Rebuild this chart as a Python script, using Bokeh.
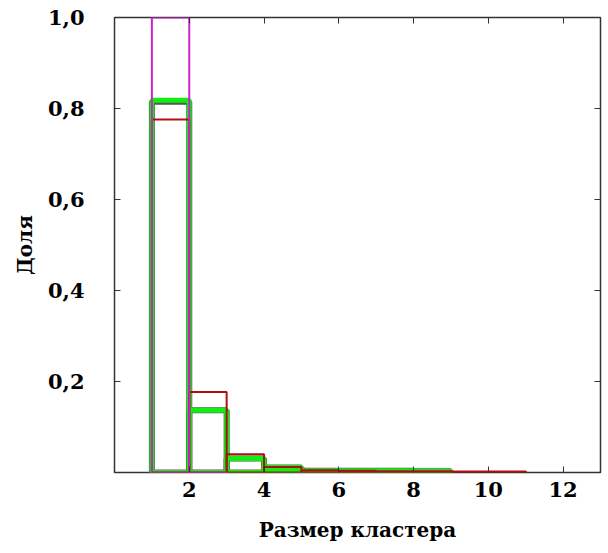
from bokeh.plotting import figure
from bokeh.models import LinearAxis, FixedTicker, Range1d, Label
from bokeh.embed import file_html
from bokeh.resources import INLINE

# bin edges (cluster size)
left_edges = [1, 2, 3, 4, 5, 6, 7, 8, 9, 10]
right_edges = [2, 3, 4, 5, 6, 7, 8, 9, 10, 11]

magenta_vals = [1.0, 0.0]
red_vals = [0.776, 0.177, 0.040, 0.012, 0.005, 0.004, 0.003, 0.003, 0.002, 0.002]
gray_vals = [0.815, 0.137, 0.031, 0.011, 0.004, 0.004, 0.004, 0.003]
green_vals = [0.818, 0.137, 0.031, 0.011, 0.004, 0.004, 0.004, 0.003]

x_ticks = [2, 4, 6, 8, 10, 12]
y_ticks = [0.2, 0.4, 0.6, 0.8, 1.0]
y_labels = {0.2: "0,2", 0.4: "0,4", 0.6: "0,6", 0.8: "0,8", 1.0: "1,0"}

FONT = "DejaVu Serif"

p = figure(width=608, height=553, output_backend="svg", toolbar_location=None,
           x_range=Range1d(0, 13), y_range=Range1d(0, 1.0),
           min_border_left=114, min_border_right=8, min_border_top=17, min_border_bottom=81,
           x_axis_label="Размер кластера", y_axis_label="Доля")
p.grid.visible = False
p.background_fill_color = "white"
p.border_fill_color = "white"
p.outline_line_color = "#333333"
p.outline_line_width = 1.5

def add_hist(vals, color, width):
    n = len(vals)
    p.quad(left=left_edges[:n], right=right_edges[:n], bottom=[0] * n, top=vals,
           fill_alpha=0, line_color=color, line_width=width)

add_hist(gray_vals, "#555555", 6)
add_hist(green_vals, "#11ee11", 5)
add_hist(red_vals, "#aa1111", 2)
add_hist(magenta_vals, "#cc22cc", 2)

for ax in (p.xaxis[0], p.yaxis[0]):
    ax.axis_line_color = None
    ax.major_tick_in = 6
    ax.major_tick_out = 0
    ax.minor_tick_line_color = None
    ax.major_tick_line_color = "#333333"
    ax.major_label_text_font = FONT
    ax.major_label_text_font_style = "bold"
    ax.major_label_text_font_size = "21px"
    ax.major_label_text_color = "black"
    ax.axis_label_text_font = FONT
    ax.axis_label_text_font_style = "bold"
    ax.axis_label_text_font_size = "20px"
    ax.axis_label_text_color = "black"

p.xaxis[0].ticker = FixedTicker(ticks=x_ticks)
p.xaxis[0].major_label_standoff = 9
p.xaxis[0].axis_label_standoff = 18
p.yaxis[0].ticker = FixedTicker(ticks=y_ticks)
p.yaxis[0].major_label_overrides = y_labels
p.yaxis[0].major_label_standoff = 30
p.yaxis[0].axis_label_standoff = 8

# mirrored ticks on top and right (no labels)
top = LinearAxis(ticker=FixedTicker(ticks=x_ticks),
                 major_label_overrides={t: "" for t in x_ticks},
                 axis_line_color=None, major_tick_in=6, major_tick_out=0,
                 minor_tick_line_color=None, major_tick_line_color="#333333")
right = LinearAxis(ticker=FixedTicker(ticks=y_ticks),
                   major_label_overrides={t: "" for t in y_ticks},
                   axis_line_color=None, major_tick_in=6, major_tick_out=0,
                   minor_tick_line_color=None, major_tick_line_color="#333333")
p.add_layout(top, "above")
p.add_layout(right, "right")

p.add_layout(Label(x=0, y=0, text="0,0", x_offset=-30, y_offset=-28,
                   text_align="right", text_font=FONT, text_font_style="bold",
                   text_font_size="21px", text_color="black"))

open("out.html", "w").write(file_html(p, INLINE))
